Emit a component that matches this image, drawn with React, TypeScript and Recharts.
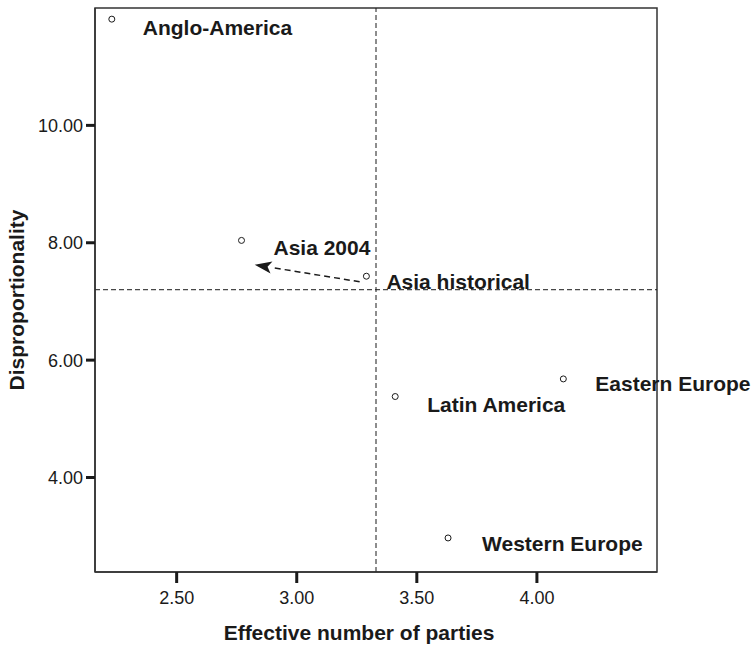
import React from 'react';
import {
  ScatterChart,
  Scatter,
  XAxis,
  YAxis,
  ReferenceLine,
  ReferenceArea
} from 'recharts';

// regions and their values
const regions = [
  'Anglo-America',
  'Asia 2004',
  'Asia historical',
  'Latin America',
  'Eastern Europe',
  'Western Europe'
];
const effectiveParties = [2.23, 2.77, 3.29, 3.41, 4.11, 3.63];
const disproportionality = [11.81, 8.04, 7.43, 5.38, 5.68, 2.97];

const xTicks = [2.5, 3.0, 3.5, 4.0];
const yTicks = [4, 6, 8, 10];

// mean lines
const meanParties = 3.33;
const meanDispro = 7.2;

// arrow from Asia historical towards Asia 2004
const arrowFrom = { x: 3.262, y: 7.335 };
const arrowTo = { x: 2.825, y: 7.625 };

const X_DOMAIN: [number, number] = [2.16, 4.5];
const Y_DOMAIN: [number, number] = [2.39, 12];

// label placement relative to each point (px)
const labelOffset: Record<string, [number, number]> = {
  'Anglo-America': [31, 8],
  'Asia 2004': [32, 7],
  'Asia historical': [20, 5],
  'Latin America': [32, 8],
  'Eastern Europe': [32, 5],
  'Western Europe': [34, 6]
};

const FONT = '"Liberation Sans", Arial, Helvetica, sans-serif';
const INK = '#1a1a1a';

const data = regions.map((name, i) => ({
  name,
  x: effectiveParties[i],
  y: disproportionality[i]
}));

const PointShape = (props: any) => {
  const { cx, cy, payload } = props;
  if (cx == null || cy == null) return null;
  const [dx, dy] = labelOffset[payload.name] || [30, 6];
  return (
    <g>
      <circle cx={cx} cy={cy} r={3} fill="#fff" stroke={INK} strokeWidth={1} />
      <text
        x={cx + dx}
        y={cy + dy}
        dominantBaseline="central"
        fontFamily={FONT}
        fontSize={21}
        fontWeight="bold"
        fill={INK}
      >
        {payload.name}
      </text>
    </g>
  );
};

const ArrowShape = (props: any) => {
  const { x1, y1, x2, y2 } = props;
  if ([x1, y1, x2, y2].some(v => v == null || isNaN(v))) return null;
  const len = Math.hypot(x2 - x1, y2 - y1);
  const ux = (x2 - x1) / len;
  const uy = (y2 - y1) / len;
  const headLen = 17;
  const headHalf = 6;
  const bx = x2 - ux * headLen;
  const by = y2 - uy * headLen;
  const px = -uy;
  const py = ux;
  return (
    <g>
      <line x1={x1} y1={y1} x2={bx} y2={by} stroke={INK} strokeWidth={1.5} strokeDasharray="6 4" />
      <polygon
        points={`${x2},${y2} ${bx + px * headHalf},${by + py * headHalf} ${bx + ux * 4},${by + uy * 4} ${bx - px * headHalf},${by - py * headHalf}`}
        fill={INK}
      />
    </g>
  );
};

const XTitle = (props: any) => {
  const { viewBox } = props;
  const cx = viewBox.x + viewBox.width / 2 - 17;
  return (
    <text x={cx} y={632} textAnchor="middle" dominantBaseline="central"
      fontFamily={FONT} fontSize={21} fontWeight="bold" fill={INK}>
      Effective number of parties
    </text>
  );
};

const YTitle = () => (
  <text x={16} y={300} textAnchor="middle" dominantBaseline="central"
    transform="rotate(-90, 16, 300)"
    fontFamily={FONT} fontSize={21} fontWeight="bold" fill={INK}>
    Disproportionality
  </text>
);

export default function App() {
  return (
    <div style={{ width: 755, height: 645, background: '#fff' }}>
      <style>{`body{margin:0}`}</style>
      <ScatterChart
        width={755}
        height={645}
        margin={{ top: 8, right: 98, bottom: 0, left: 0 }}
      >
        <XAxis
          type="number"
          dataKey="x"
          domain={X_DOMAIN}
          ticks={xTicks}
          tickFormatter={(v: number) => v.toFixed(2)}
          height={73}
          tickSize={11}
          tickMargin={8}
          axisLine={{ stroke: '#333', strokeWidth: 1.5 }}
          tickLine={{ stroke: INK, strokeWidth: 3 }}
          tick={{ fontFamily: FONT, fontSize: 18, fill: INK }}
          label={<XTitle />}
        />
        <YAxis
          type="number"
          dataKey="y"
          domain={Y_DOMAIN}
          ticks={yTicks}
          tickFormatter={(v: number) => v.toFixed(2)}
          width={95}
          tickSize={9}
          tickMargin={3}
          axisLine={{ stroke: '#333', strokeWidth: 1.5 }}
          tickLine={{ stroke: INK, strokeWidth: 3 }}
          tick={{ fontFamily: FONT, fontSize: 18, fill: INK }}
          label={<YTitle />}
        />
        <ReferenceArea
          x1={X_DOMAIN[0]}
          x2={X_DOMAIN[1]}
          y1={Y_DOMAIN[0]}
          y2={Y_DOMAIN[1]}
          fill="none"
          fillOpacity={0}
          stroke="#333"
          strokeWidth={1.5}
        />
        <ReferenceLine x={meanParties} stroke={INK} strokeWidth={1} strokeDasharray="5 3" />
        <ReferenceLine y={meanDispro} stroke={INK} strokeWidth={1} strokeDasharray="5 3" />
        <ReferenceLine
          segment={[arrowFrom, arrowTo]}
          shape={<ArrowShape />}
        />
        <Scatter data={data} isAnimationActive={false} shape={<PointShape />} />
      </ScatterChart>
    </div>
  );
}
